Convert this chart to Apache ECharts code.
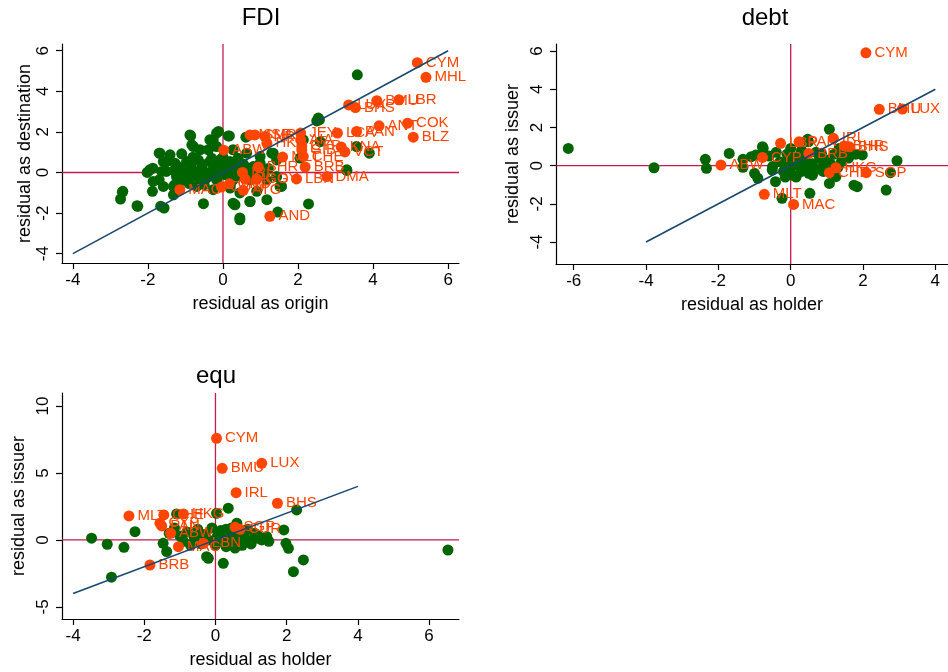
<!DOCTYPE html>
<html><head><meta charset="utf-8">
<script src="https://cdn.jsdelivr.net/npm/echarts@6/dist/echarts.min.js"></script>
<style>html,body{margin:0;padding:0;background:#fff}#c{width:948px;height:672px}</style>
</head><body><div id="c"></div>
<script>
// ---------- DATA ----------
const fdiGreen = [
[3.58,4.81],[2.5,2.54],[2.57,2.59],[2.54,2.68],[3.3,0.1],[3.9,0.95],[3.56,1.28],[2.28,-1.55],[1.46,-1.95],[0.45,-2.33],
[0.29,-1.55],[-0.52,-1.54],[-1.66,-1.66],[-1.57,-1.75],[-2.29,-1.64],[-2.73,-1.31],[-2.68,-0.97],[-1.88,-0.93],[-2.02,0.0],[-1.87,0.21],
[-1.70,0.95],[-0.86,1.80],[-0.79,1.28],[-0.12,2.02],[-0.17,1.94],[0.17,1.80],[0.61,1.74],[1.30,0.95],[2.05,0.71],[1.52,-0.69],
[0.72,-1.43],[2.59,1.52],[2.14,1.61],[-1.41,0.87],[-1.1,0.92],[-1.5,0.54],[-1.63,0.05],[-1.7,-0.36],[-1.59,-0.69],[-1.32,-1.1],
[-1.28,-0.6],[-0.26,1.61],[-0.39,1.12],[-0.35,1.61],[-0.83,1.36],[-0.61,1.12],[-0.17,1.28],[0.27,1.12],[0.63,0.95],[0.99,0.79],
[1.34,0.95],[-1.28,0.46],[-0.97,0.54],[-0.66,0.62],[-0.35,0.54],[-0.08,0.62],[0.19,0.54],[0.45,0.46],[0.81,0.3],[-1.95,0.13],
[-1.51,0.05],[-1.15,0.21],[-0.88,0.13],[-0.57,0.21],[-0.26,0.13],[0.1,0.21],[0.37,0.05],[1.07,-0.03],[-1.24,-0.2],[-0.97,-0.28],
[-0.7,-0.2],[-0.44,-0.28],[-0.17,-0.36],[0.27,-0.36],[0.72,-0.36],[-1.86,-0.44],[-1.32,-0.69],[-0.7,-0.69],[-0.26,-0.85],[0.19,-0.77],
[0.45,-1.01],[0.9,-0.93],[0.32,-1.59],[0.45,-2.24],[1.17,-0.36],[1.43,-0.2],[1.17,-1.34],[0.99,0.46],[1.43,0.62],[1.56,-0.69],
[0.27,-1.51],[0.72,-1.43],[3.3,0.13],[-1.2,0.3],[-1.05,0.0],[-0.95,-0.2],[-0.85,0.35],[-0.75,0.05],[-0.65,-0.1],[-0.55,0.4],
[-0.45,0.0],[-0.35,-0.15],[-0.25,0.3],[-0.15,0.05],[-0.05,0.45],[0.05,-0.1],[0.15,0.35],[0.25,0.0],[0.35,0.25],[0.45,-0.15],
[0.55,0.4],[-1.1,-0.4],[-0.6,-0.45],[-0.3,0.7],[0.0,0.75],[-0.8,0.75],[-1.3,0.1],[0.65,0.15],[0.2,-0.6],[-0.5,-0.6],
[-0.9,-0.55],[0.4,0.7],[0.8,-0.1],[-0.88,1.85],[0.14,1.8],[-1.68,0.95],[-1.59,0.54],[-2.67,-0.93],[-2.27,-1.67],[1.21,0.2]
];
const fdiOrange = [
[5.18,5.41],[5.41,4.69],[4.10,3.54],[4.69,3.58],[3.35,3.33],[3.53,3.20],[4.16,2.30],[4.92,2.43],[5.07,1.74],[3.05,1.94],
[3.56,2.02],[3.15,1.26],[3.25,1.01],[2.07,1.94],[2.07,1.61],[2.1,1.3],[2.1,1.12],[2.14,0.79],[2.19,0.27],[1.59,0.76],
[1.96,-0.32],[2.77,-0.2],[1.25,-2.16],[0.02,1.1],[-1.15,-0.85],[0.72,1.85],[0.85,1.85],[1.12,1.77],[1.17,1.44],[0.94,0.27],
[0.52,0.0],[0.59,-0.33],[0.9,-0.33],[0.54,-0.88],[0.17,-0.56],[-0.04,-0.72]
];
const fdiOrangeNames = [
"CYM","MHL","BMU","LBR","LUX","BHS","ANT","COK","BLZ","LCA",
"PAN","KNA","VCT","JEY","AIA","CYP","GIB","CHE","BRB","MLT",
"LBN","DMA","AND","ABW","MAC","MSR","SMR","NRU","HKG","BHR",
"IRL","MCO","GGY","ATG","GRD","CUW"
];

const debtGreen = [
[-6.15,0.9],[-3.78,-0.11],[-2.36,0.33],[-2.33,-0.14],[-1.70,0.64],[-1.32,0.33],[-1.32,-0.09],[-1.09,0.47],[-0.96,0.56],[-0.76,0.91],
[-1.0,-0.40],[-0.91,-0.66],[-0.42,-0.84],[-0.51,-0.23],[-0.24,-1.71],[0.53,-1.45],[0.49,1.25],[1.07,1.90],[0.47,1.38],[1.98,0.56],
[2.94,0.26],[2.76,-0.37],[2.64,-1.28],[1.84,-1.1],[1.75,-1.02],[1.07,-0.93],[1.25,-0.58],[1.34,0.9],[1.62,0.82],[-0.6,0.5],
[-0.3,0.2],[-0.1,0.6],[0.1,0.4],[0.2,0.0],[0.3,-0.3],[0.4,0.3],[0.6,0.1],[0.7,-0.2],[0.8,0.4],[0.9,0.0],
[1.0,0.3],[1.2,0.6],[1.4,0.2],[1.5,0.5],[0.0,-0.1],[0.05,-0.5],[0.15,-0.6],[-0.2,-0.3],[0.5,-0.4],[0.7,0.7],
[0.3,0.8],[-0.4,0.7],[0.9,-0.3],[1.1,0.1],[0.6,-0.5],[-0.1,0.2],[1.3,-0.1],[0.25,0.55],[0.45,-0.1],[0.05,0.1],
[-0.15,-0.6],[1.6,0.4],[1.8,0.6],[-0.5,-0.05],[-0.78,0.99],[0.0,0.9],[0.6,-0.25],[0.85,0.65]
];
const debtOrange = [
[2.08,5.91],[2.45,2.95],[3.09,2.96],[1.18,1.43],[-0.28,1.17],[0.23,1.25],[1.48,1.03],[1.62,0.99],[-0.78,0.43],[0.5,0.64],
[-1.93,0.03],[1.25,-0.11],[1.07,-0.37],[2.09,-0.37],[-0.73,-1.50],[0.08,-2.03]
];
const debtOrangeNames = [
"CYM","BMU","LUX","IRL","LBR","PAN","BHR","BHS","CYP","BRB",
"ABW","HKG","CHE","SGP","MLT","MAC"
];

const equGreen = [
[-3.48,0.13],[-3.04,-0.32],[-2.57,-0.55],[-2.26,0.62],[-2.92,-2.78],[-1.09,1.94],[-1.47,-0.25],[-1.37,-0.87],[-0.2,-1.37],[0.22,-1.74],
[0.36,2.37],[0.03,1.99],[2.28,2.24],[1.92,0.75],[1.98,-0.25],[2.05,-0.62],[2.47,-1.49],[2.19,-2.37],[-0.25,-1.25],[1.44,0.25],
[0.88,0.0],[1.16,0.13],[0.6,1.25],[6.53,-0.75],[-1.3,0.5],[-1.0,0.3],[-0.8,0.6],[-0.6,0.2],[-0.5,0.8],[-0.3,0.4],
[-0.1,0.9],[0.1,0.5],[0.2,0.1],[0.3,0.8],[0.4,0.3],[0.5,-0.2],[0.6,0.6],[0.7,0.1],[0.8,0.4],[1.0,-0.3],
[1.1,0.5],[1.3,0.0],[-0.4,-0.3],[-0.2,0.0],[0.0,-0.4],[0.15,0.7],[0.45,0.9],[-0.7,-0.4],[-0.9,-0.1],[0.9,0.8],
[1.2,0.3],[0.3,-0.5],[0.55,-0.6],[-1.15,0.9],[-0.45,0.5],[0.05,0.25],[0.75,-0.4],[1.5,-0.1]
];
const equOrange = [
[0.03,7.59],[0.19,5.35],[1.30,5.72],[0.58,3.53],[1.74,2.74],[-2.43,1.79],[-1.45,1.87],[-0.90,1.94],[-1.56,1.25],[-1.51,1.05],
[-1.26,0.50],[-1.04,-0.50],[-0.34,-0.25],[-1.84,-1.87],[0.55,0.95],[0.69,0.80]
];
const equOrangeNames = [
"CYM","BMU","LUX","IRL","BHS","MLT","CHE","HKG","CYP","PAN",
"ABW","MAC","LBN","BRB","SGP","CUR"
];

const fdiTicksX = [-4,-2,0,2,4,6];
const fdiTicksY = [-4,-2,0,2,4,6];
const debtTicksX = [-6,-4,-2,0,2,4];
const debtTicksY = [-4,-2,0,2,4,6];
const equTicksX = [-4,-2,0,2,4,6];
const equTicksY = [-5,0,5,10];

const fdiDiag = [[-4,-4],[6,6]];
const debtDiag = [[-4,-4],[4,4]];
const equDiag = [[-4,-4],[4,4]];

// ---------- LAYOUT ----------
const F = "'Liberation Sans', Arial, Helvetica, sans-serif";
const GREEN = '#006400', ORANGE = '#ff4500', NAVY = '#1a476f', REF = '#c51b4f';

const panels = [
  {title:'FDI', tx:261, ty:18, grid:{left:62, top:44, width:397, height:219},
   xr:[-4.29,6.29], yr:[-4.46,6.33], xt:fdiTicksX, yt:fdiTicksY,
   xn:'residual as origin', yn:'residual as destination', yGap:28,
   green:fdiGreen, orange:fdiOrange, names:fdiOrangeNames, diag:fdiDiag},
  {title:'debt', tx:765, ty:18, grid:{left:556, top:44, width:400, height:220},
   xr:[-6.49,4.35], yr:[-5.15,6.37], xt:debtTicksX, yt:debtTicksY,
   xn:'residual as holder', yn:'residual as issuer', yGap:34,
   green:debtGreen, orange:debtOrange, names:debtOrangeNames, diag:debtDiag},
  {title:'equ', tx:216, ty:376, grid:{left:62, top:393, width:397, height:226},
   xr:[-4.31,6.84], yr:[-5.9,10.97], xt:equTicksX, yt:equTicksY,
   xn:'residual as holder', yn:'residual as issuer', yGap:34,
   green:equGreen, orange:equOrange, names:equOrangeNames, diag:equDiag}
];

const grids = [], xAxes = [], yAxes = [], series = [], graphics = [];
panels.forEach((p, i) => {
  grids.push(Object.assign({containLabel:false}, p.grid));
  const common = {
    type:'value', gridIndex:i, nameLocation:'middle',
    nameTextStyle:{fontSize:18, color:'#000', fontFamily:F},
    axisLine:{show:true, onZero:false, lineStyle:{color:'#000', width:1.2}},
    splitLine:{show:false}
  };
  xAxes.push(Object.assign({}, common, {
    min:p.xr[0], max:p.xr[1], name:p.xn, nameGap:32,
    axisTick:{show:true, customValues:p.xt, length:6, lineStyle:{color:'#000', width:1.2}},
    axisLabel:{customValues:p.xt, fontSize:17, color:'#000', margin:9, fontFamily:F}
  }));
  yAxes.push(Object.assign({}, common, {
    min:p.yr[0], max:p.yr[1], name:p.yn, nameGap:p.yGap, nameRotate:90,
    axisTick:{show:true, customValues:p.yt, length:6, lineStyle:{color:'#000', width:1.2}},
    axisLabel:{customValues:p.yt, fontSize:17, color:'#000', margin:10, rotate:90, fontFamily:F}
  }));
  series.push({type:'line', xAxisIndex:i, yAxisIndex:i, silent:true, showSymbol:false, z:1,
    data:[[0,p.yr[0]],[0,p.yr[1]]], lineStyle:{color:REF, width:1.3}});
  series.push({type:'line', xAxisIndex:i, yAxisIndex:i, silent:true, showSymbol:false, z:1,
    data:[[p.xr[0],0],[p.xr[1],0]], lineStyle:{color:REF, width:1.3}});
  series.push({type:'scatter', xAxisIndex:i, yAxisIndex:i, z:2, symbolSize:11,
    data:p.green, itemStyle:{color:GREEN, opacity:1}});
  series.push({type:'scatter', xAxisIndex:i, yAxisIndex:i, z:3, symbolSize:11,
    data:p.orange.map((v,k)=>({value:v, name:p.names[k]})),
    itemStyle:{color:ORANGE, opacity:1},
    label:{show:true, position:'right', distance:3, formatter:'{b}', color:ORANGE, fontSize:15, fontFamily:F}});
  series.push({type:'line', xAxisIndex:i, yAxisIndex:i, silent:true, showSymbol:false, z:4,
    data:p.diag, lineStyle:{color:NAVY, width:1.6}});
  graphics.push({type:'text', x:p.tx, y:p.ty, style:{text:p.title, font:'24px ' + F, fill:'#000',
    textAlign:'center', textVerticalAlign:'middle', align:'center', verticalAlign:'middle'}});
});

const chart = echarts.init(document.getElementById('c'), null, {renderer:'canvas'});
chart.setOption({
  animation:false, backgroundColor:'#fff',
  grid:grids, xAxis:xAxes, yAxis:yAxes, series:series, graphic:graphics,
  tooltip:{show:false}
});
</script>
</body></html>
